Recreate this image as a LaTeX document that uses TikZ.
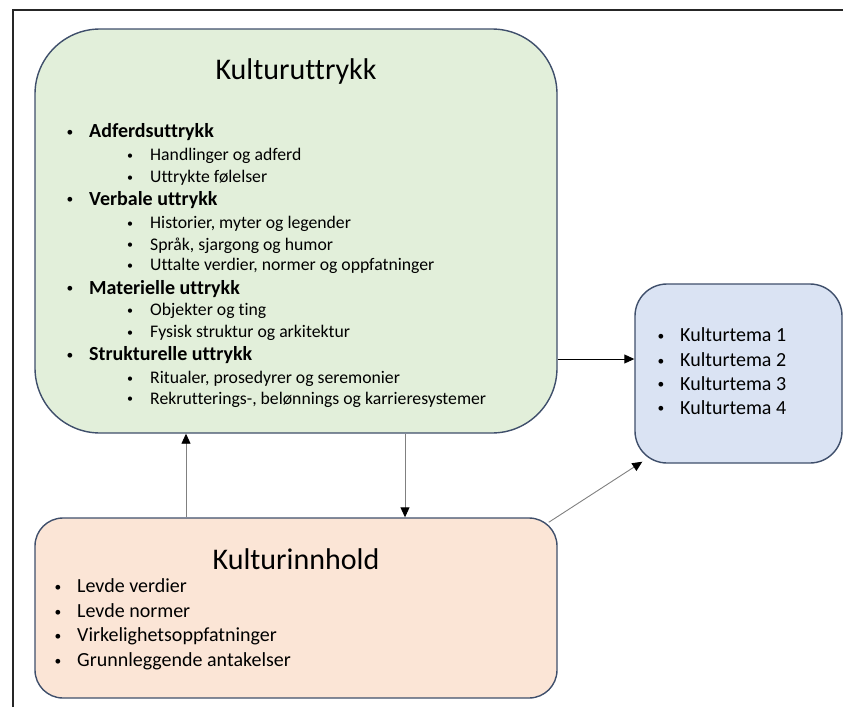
\documentclass[tikz,border=0pt]{standalone}
\usepackage{fontspec}
\setmainfont{Carlito}[Ligatures=NoCommon]
\usetikzlibrary{arrows.meta}
\definecolor{boxline}{HTML}{3F4F6B}
\definecolor{greenfill}{HTML}{E2EFDA}
\definecolor{peachfill}{HTML}{FBE5D6}
\definecolor{bluefill}{HTML}{DAE3F3}
\definecolor{linkgray}{HTML}{808080}
\tikzset{
  panel/.style={draw=boxline, line width=1.4pt, inner sep=0pt},
  title/.style={anchor=base, inner sep=0pt, font=\fontsize{30}{36}\selectfont},
  headitem/.style={anchor=mid west, inner sep=0pt, font=\fontsize{20}{24}\selectfont\bfseries},
  subitem/.style={anchor=mid west, inner sep=0pt, font=\fontsize{17.7}{21}\selectfont},
  plainitem/.style={anchor=mid west, inner sep=0pt, font=\fontsize{20}{24}\selectfont},
  dot/.style={anchor=center, inner sep=0pt, yshift=1.8pt, font=\fontsize{13.5}{15}\selectfont},
  subdot/.style={anchor=center, inner sep=0pt, yshift=1.6pt, font=\fontsize{12}{14}\selectfont},
  link/.style={line width=0.9pt, -{Triangle[length=10pt,width=9pt,color=black,fill=black]}},
}
\begin{document}
\begin{tikzpicture}[x=1pt,y=-1pt]
\useasboundingbox (0,0) rectangle (843,707);
% frame edges
\draw[line width=1.3pt, black!85] (13,707) -- (13,10) -- (843,10);

% panels
\node[panel, fill=greenfill, rounded corners=65pt, minimum width=522pt, minimum height=404pt] (green) at (296,231) {};
\node[panel, fill=peachfill, rounded corners=28pt, minimum width=522pt, minimum height=180pt] (peach) at (296,608) {};
\node[panel, fill=bluefill, rounded corners=32pt, minimum width=207pt, minimum height=179pt] (blue) at (738.5,373.5) {};

% Kulturuttrykk
\node[title] (gtitle) at (296,79.5) {Kulturuttrykk};
\node[dot] (b1) at (70,135) {•};
\node[headitem] (h1) at (89,135) {Adferdsuttrykk};
\node[subdot] (b11) at (130,158.3) {•};
\node[subitem] (s11) at (150,158.3) {Handlinger og adferd};
\node[subdot] (b12) at (130,180) {•};
\node[subitem] (s12) at (150,180) {Uttrykte følelser};
\node[dot] (b2) at (70,202.7) {•};
\node[headitem] (h2) at (89,202.7) {Verbale uttrykk};
\node[subdot] (b21) at (130,226) {•};
\node[subitem] (s21) at (150,226) {Historier, myter og legender};
\node[subdot] (b22) at (130,247.7) {•};
\node[subitem] (s22) at (150,247.7) {Språk, sjargong og humor};
\node[subdot] (b23) at (130,268.3) {•};
\node[subitem] (s23) at (150,268.3) {Uttalte verdier, normer og oppfatninger};
\node[dot] (b3) at (70,291.7) {•};
\node[headitem] (h3) at (89,291.7) {Materielle uttrykk};
\node[subdot] (b31) at (130,313.3) {•};
\node[subitem] (s31) at (150,313.3) {Objekter og ting};
\node[subdot] (b32) at (130,335) {•};
\node[subitem] (s32) at (150,335) {Fysisk struktur og arkitektur};
\node[dot] (b4) at (70,358.3) {•};
\node[headitem] (h4) at (89,358.3) {Strukturelle uttrykk};
\node[subdot] (b41) at (130,381) {•};
\node[subitem] (s41) at (150,381) {Ritualer, prosedyrer og seremonier};
\node[subdot] (b42) at (130,401.7) {•};
\node[subitem] (s42) at (150,401.7) {Rekrutterings-, belønnings og karrieresystemer};

% Kulturtema
\node[dot] (t1b) at (661,339.3) {•};
\node[plainitem] (t1) at (680,339.3) {Kulturtema 1};
\node[dot] (t2b) at (661,364.3) {•};
\node[plainitem] (t2) at (680,364.3) {Kulturtema 2};
\node[dot] (t3b) at (661,387.7) {•};
\node[plainitem] (t3) at (680,387.7) {Kulturtema 3};
\node[dot] (t4b) at (661,411.7) {•};
\node[plainitem] (t4) at (680,411.7) {Kulturtema 4};

% Kulturinnhold
\node[title] (ptitle) at (296,569.5) {Kulturinnhold};
\node[dot] (p1b) at (58,590) {•};
\node[plainitem] (p1) at (77,590) {Levde verdier};
\node[dot] (p2b) at (58,615) {•};
\node[plainitem] (p2) at (77,615) {Levde normer};
\node[dot] (p3b) at (58,639.5) {•};
\node[plainitem] (p3) at (77,639.5) {Virkelighetsoppfatninger};
\node[dot] (p4b) at (58,664) {•};
\node[plainitem] (p4) at (77,664) {Grunnleggende antakelser};

% connectors
\coordinate (row) at (0,359);
\coordinate (upcol) at (186,0);
\coordinate (downcol) at (405,0);
\draw[link, draw=black] (green.east |- row) -- (blue.west |- row);
\draw[link, draw=linkgray] (peach.north -| upcol) -- (green.south -| upcol);
\draw[link, draw=linkgray] (green.south -| downcol) -- (peach.north -| downcol);
\draw[link, draw=linkgray] ([shift={(-9,5)}]peach.north east) -- ([shift={(8,-2)}]blue.south west);
\end{tikzpicture}
\end{document}
